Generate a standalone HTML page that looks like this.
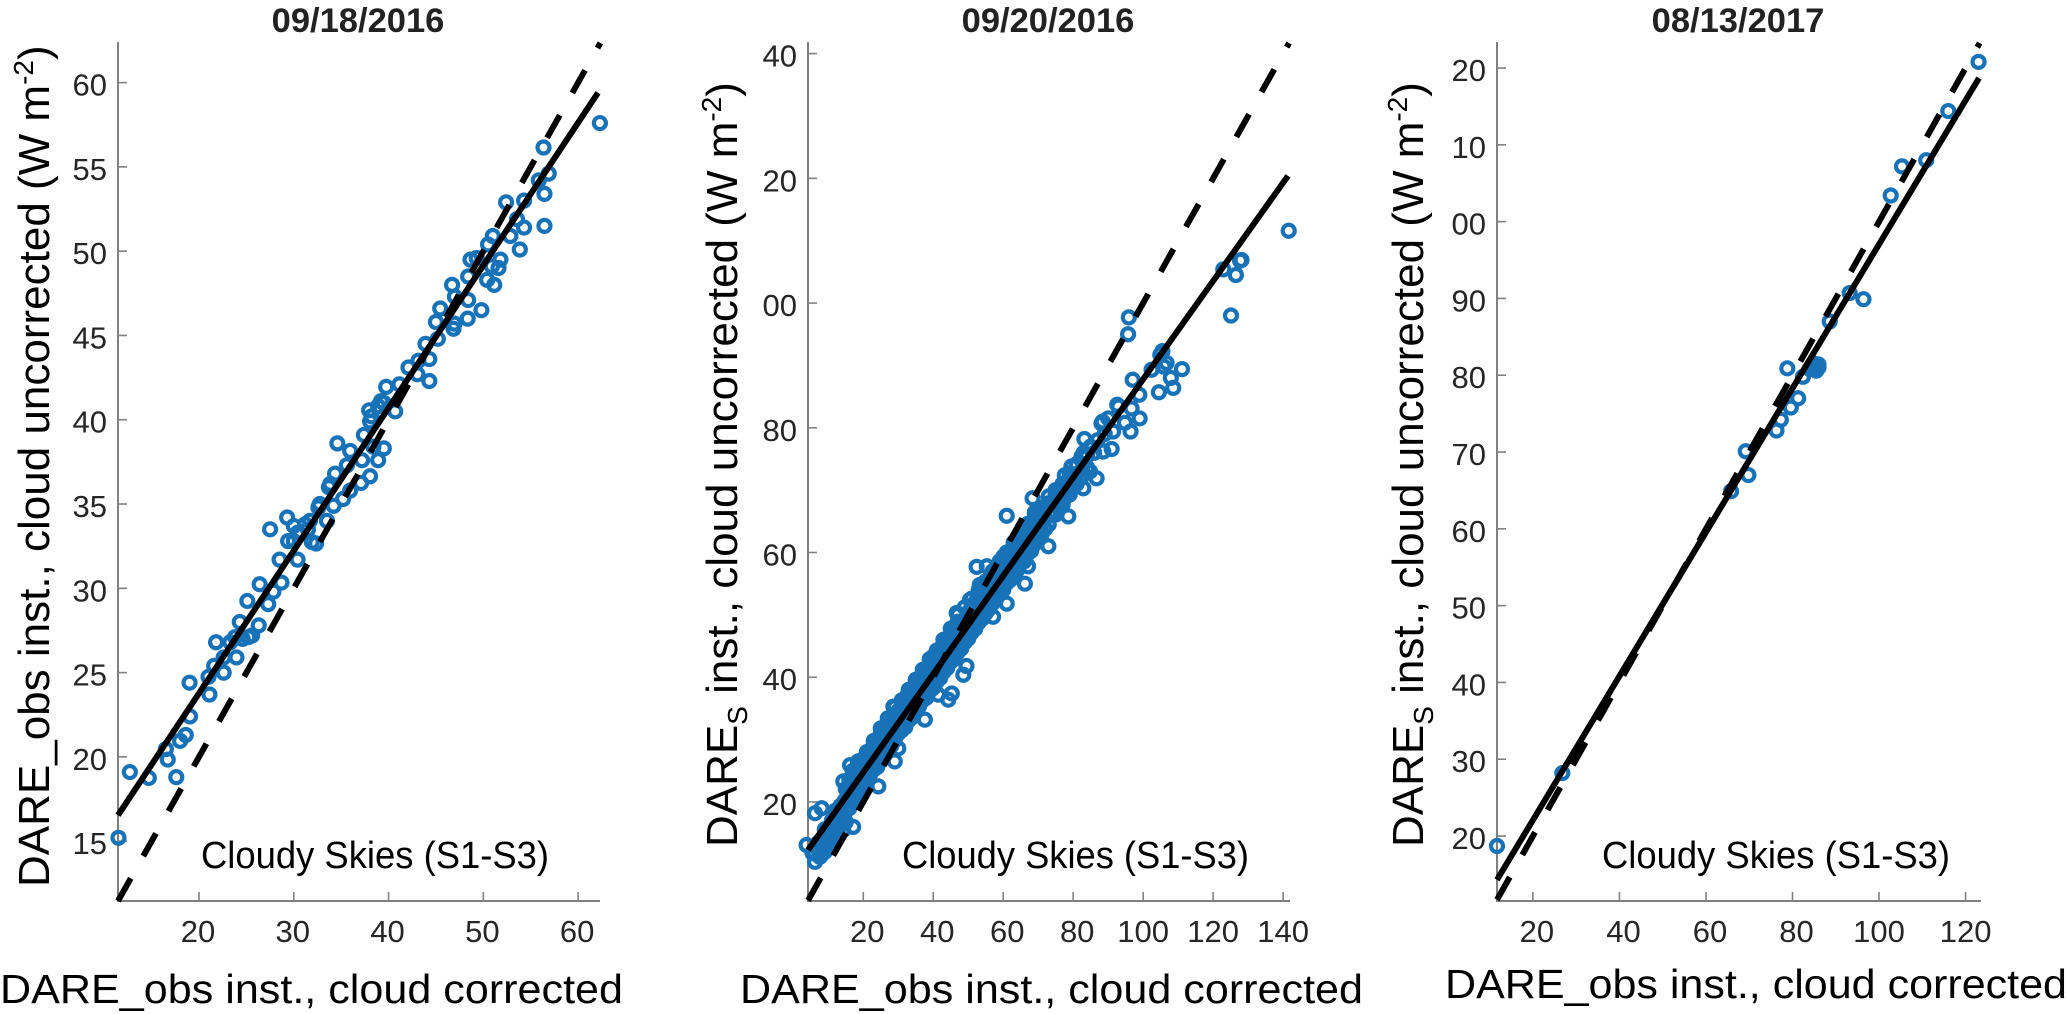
<!DOCTYPE html>
<html lang="en">
<head>
<meta charset="utf-8">
<title>DARE cloud corrected versus uncorrected scatter plots</title>
<style>
html,body{margin:0;padding:0;background:#fff;width:2067px;height:1014px;overflow:hidden}
svg{display:block;font-family:"Liberation Sans",sans-serif}
.tick{font-size:31px;fill:#262626}
.title{font-size:34.5px;font-weight:bold;fill:#222;text-anchor:middle}
.ytitle{font-size:44px;fill:#000}
.xtitle{font-size:41px;fill:#000}
.note{font-size:38px;fill:#000}
</style>
</head>
<body>
<svg id="figure" xmlns="http://www.w3.org/2000/svg" width="2067" height="1014" viewBox="0 0 2067 1014">
  <rect width="2067" height="1014" fill="#fff"/>
  <g id="panel-1"></g>
  <g id="panel-2"></g>
  <g id="panel-3"></g>

  <text class="title" x="358" y="32">09/18/2016</text>
  <text class="title" x="1048" y="32">09/20/2016</text>
  <text class="title" x="1738" y="32">08/13/2017</text>

  <text class="ytitle" transform="translate(49,887) rotate(-90)">DARE_obs inst., cloud uncorrected (W m<tspan font-size="28" dy="-16">-2</tspan><tspan dy="16">)</tspan></text>
  <text class="ytitle" transform="translate(737,847) rotate(-90)">DARE<tspan font-size="28" dy="10">S</tspan><tspan dy="-10"> inst., cloud uncorrected (W m</tspan><tspan font-size="28" dy="-16">-2</tspan><tspan dy="16">)</tspan></text>
  <text class="ytitle" transform="translate(1423,847) rotate(-90)">DARE<tspan font-size="28" dy="10">S</tspan><tspan dy="-10"> inst., cloud uncorrected (W m</tspan><tspan font-size="28" dy="-16">-2</tspan><tspan dy="16">)</tspan></text>

  <text class="xtitle" x="0" y="1003" textLength="623" lengthAdjust="spacingAndGlyphs">DARE_obs inst., cloud corrected</text>
  <text class="xtitle" x="740" y="1003" textLength="623" lengthAdjust="spacingAndGlyphs">DARE_obs inst., cloud corrected</text>
  <text class="xtitle" x="1445" y="998" textLength="622" lengthAdjust="spacingAndGlyphs">DARE_obs inst., cloud corrected</text>

  <text class="note" x="201" y="868" textLength="348" lengthAdjust="spacingAndGlyphs">Cloudy Skies (S1-S3)</text>
  <text class="note" x="902" y="868" textLength="347" lengthAdjust="spacingAndGlyphs">Cloudy Skies (S1-S3)</text>
  <text class="note" x="1602" y="868" textLength="348" lengthAdjust="spacingAndGlyphs">Cloudy Skies (S1-S3)</text>
</svg>

<script>
const panel1XLim = [11.45, 62.1];
const panel1YLim = [11.45, 62.35];
const panel1XTicks = [20, 30, 40, 50, 60];
const panel1XLabels = ["20", "30", "40", "50", "60"];
const panel1YTicks = [15, 20, 25, 30, 35, 40, 45, 50, 55, 60];
const panel1YLabels = ["15", "20", "25", "30", "35", "40", "45", "50", "55", "60"];
const panel1FitX = [11.45, 62.1];
const panel1FitY = [16.54, 59.4];
const panel1X = [11.5,12.7,14.7,16.7,16.5,17.6,18,18.6,19.05,19,
21.1,21,21.6,22.6,23.95,22.6,21.8,23.3,23.8,25.2,
25.6,24.6,24.3,26.3,25.1,27.3,26.4,27.85,28.7,28.5,
30.4,27.5,29.3,30,29.4,30,30.4,31.9,32.35,31.5,
31.7,31.2,33.5,32.6,32.75,34.2,35.2,35.95,37.1,38.05,
33.85,33.7,34.35,34.6,35.95,35.6,37.2,38.9,39.5,38.4,
37.4,37.95,38.2,38.05,40.7,38.9,39.5,39.2,39.75,41.15,
42.1,43.15,43.05,44.3,44.3,43.9,45.2,45,45.45,46.85,
46.95,48.35,49.8,48.4,47,46.7,48.4,51.15,50.4,51.6,
51.8,48.65,49.3,50.9,50.5,51,52.85,53.85,54.3,56.45,
53.55,52.4,54.3,56.45,55.85,56.9,56.35,62.3];
const panel1Y = [15.2,19.1,18.75,19.84,20.46,18.8,20.95,21.3,22.4,24.4,
23.7,24.75,25.4,25,25.9,25.9,26.8,26.8,27.1,27.1,
27.2,27,28,27.8,29.25,29.06,30.24,29.8,30.34,31.7,
31.7,33.5,34.2,33.7,32.8,32.8,33.3,32.75,32.66,33.5,
34,33.8,34,34.8,35,34.9,35.3,35.8,36.25,36.65,
36.2,36,36.8,38.6,38.15,37.3,37.6,37.6,38.3,38.4,
39.1,40.56,40.2,39.9,40.5,40.8,41,41.1,41.95,42.1,
43.1,43.5,42.7,42.3,43.6,44.5,44.8,45.8,46.6,45.4,
45.7,46,46.5,47.1,47.3,48,48.5,48,48.3,49,
49.5,49.5,49.6,49.1,50.4,50.9,50.9,50.1,51.4,51.5,
51.9,52.9,53,53.4,54.2,54.6,56.15,57.6];

const panel2XLim = [4.2, 141.4];
const panel2YLim = [4.12, 141.7];
const panel2XTicks = [20, 40, 60, 80, 100, 120, 140];
const panel2XLabels = ["20", "40", "60", "80", "100", "120", "140"];
const panel2YTicks = [20, 40, 60, 80, 100, 120, 140];
const panel2YLabels = ["20", "40", "60", "80", "00", "20", "40"];
const panel2FitX = [4.2, 141.4];
const panel2FitY = [12.3, 120.4];
const panel2X = [3.8,6.2,8.1,6.2,7.6,5.5,8.5,9.5,7.2,10.5,
11.5,9,11,12.5,13,12,14,14.3,17.1,15,
14.5,16,16,13.5,18,14.3,16.2,17,19,20,
18,20,18.5,21,22,24.3,24,22,23,26,
24,25,26,29,30,28,28,27,29,28.6,
30,30,31,32,32,32.4,33,34,34,34,
35.2,36,36,36,37,37.6,38,38,38.5,39,
40,40,40,41,41.4,42,42,42,42.9,44,
44,44,44.3,45.3,45,46,46,46.7,46,47,
48,48,48,48.6,49.5,50,50,50,50.5,52,
52,51,52.4,53.3,54,54,53,55.3,55,56,
56,56,57,57.1,58,58,58,59,60,60,
60,61,61,62,62,62,63,64,64,64,
65,66,66,66,66.2,67,67.1,68,68,68,
68.4,69,70,70,70,71,72,72,72.9,72,
73,74,74,75,76,76,77.6,77,78,78,
78.6,79.5,80,80,81,82,82.9,82.4,83.2,84,
84,84.8,85,86,86.7,87,88.1,88.4,88.6,91,
91.4,92.6,92.9,94.8,96.4,96.7,97,98.9,99,102.4,
104.5,104.9,105.5,105.9,106.7,107.9,108.6,111.1,95.7,95.9,
125.1,122.9,126.5,127.7,128.1,141.6,89,90];
const panel2Y = [13.1,18.2,19,10.4,11.2,11.8,12.4,13.8,13.5,14.6,
13.6,15.6,16.2,15.4,17.4,18.6,16.6,15.5,16,18.5,
20,19,21.5,19.4,20.5,23.3,25.9,22.6,22,23,
24.5,25.5,26.5,26.7,24.5,22.5,25.6,27.3,28.6,27.4,
29.4,31,29.5,26.5,28.6,29,30.6,32,34,35.3,
31,33,35.5,32,33.8,36.9,35.5,33.6,35.2,37.5,
39.6,35.4,37,38.4,40,33.2,36.7,38.4,40,41.6,
38.3,40,43.3,41.5,37.2,39.9,41.8,43.4,46,41.5,
43.4,45,36.4,37.4,46.8,43,44.8,50.3,47.5,48.9,
44.6,46.4,48.4,40.4,41.8,46.2,48,50,52.4,47.8,
49.6,51.2,57.7,54.8,49.4,51.2,52.8,57.8,54,51,
52.8,54.6,56.5,49.7,52.6,54.4,56.4,58,54,56,
59.3,51.8,65.9,55.6,57.6,59.6,61.5,57.2,59,60.8,
62.8,58.6,60.6,62.2,55,64,57.8,60.3,62,63.8,
68.7,65.5,62,64,66,67.2,63.8,65.5,61,67.2,
69,66,68,70,67.5,69.5,72.4,71,69,71,
65.8,73.8,70.5,72.5,74,72,70.3,75.4,78.2,73.6,
75.5,73,77,76,71.9,78,80.7,81,76.2,76.6,
79.4,83.7,83.4,80.8,79.4,83.1,87.7,85.3,81.5,89.3,
85.7,91.7,92.3,89.8,90.4,88,86.4,89.4,95,97.7,
98,105.4,104.5,106.8,106.9,111.6,79,81.5];
const panel2BandX = [6,7,8,8,9,9,10,10,11,11,12,12,13,13,14,14,15,
15,15,15,
17,17,17,17,19,19,19,19,21,21,21,21,23,23,23,23,25,25,25,25,
27,27,27,27,29,29,29,29,31,31,31,31,33,33,33,33,35,35,35,35,
37,37,37,37,39,39,39,39,41,41,41,41,43,43,43,43,45,45,45,45,
47,47,47,47,49,49,49,49,51,51,51,51,53,53,53,53,55,55,55,55,
57,57,57,57,59,59,59,59,61,61,61,61,63,63,63,63,65,65,65,65,
67,67,67,67,69,69,69,69,
71,71,71,73,73,73,75,75,75,77,77,77,79,79,79,81,81,81,83,83,83,
16,16,16,18,18,18,20,20,20,22,22,22,24,24,24,26,26,26,28,28,28,
30,30,30,32,32,32,34,34,34,36,36,36,38,38,38,40,40,40,42,42,42,
44,44,44,46,46,46,48,48,48,50,50,50,52,52,52,54,54,54,56,56,56,
58,58,58,60,60,60,62,62,62,64,64,64,66,66,66,68,68,68,70,70,70];
const panel2BandY = [12,12.5,11.5,13,12,14.2,13,15.4,14.2,17,14.5,17,15.8,18.6,18,19.5,16.8,
18.9,20.4,22.1,
20.5,22,23.6,25,22.1,23.5,25.3,26.6,23.7,25.1,26.9,28,25.2,26.8,28.4,29.8,26.8,28.3,30,31.8,
28.4,29.9,31.6,33.4,29.9,31.5,33.2,35.2,31.5,33,34.7,36.3,33.1,34.6,36.3,38,34.6,36.2,38,39.6,
36.3,37.8,39.5,41.2,37.8,39.3,41.1,42.9,39.3,40.9,42.7,44.3,40.9,42.5,44.3,46,42.5,44.1,45.9,47.8,
44,45.6,47.4,50,45.6,47.2,49,51.2,47.2,48.8,50.6,52.6,48.8,50.4,52.2,54,50.3,51.9,53.7,55.4,
51.9,53.5,55.3,57,53.5,55.1,56.9,58.6,55.1,56.7,58.5,60,56.6,58.2,60,61.6,58.2,59.8,61.6,63,
59.8,61.4,63.2,64.6,61.4,63,64.8,66.4,
63,64.6,66.4,64.5,66.1,67.9,66.1,67.7,69.5,67.7,69.3,71,69.3,70.9,72.7,71,72.6,74.2,72.5,74.2,76,
20.4,22,23.6,22,23.6,25.2,23.6,25.2,26.8,25.1,26.7,28.3,26.7,28.3,29.9,28.3,29.9,31.5,29.8,31.4,33,
31.4,33,34.6,33,34.6,36.2,34.6,36.2,37.8,36.2,37.8,39.4,37.7,39.3,40.9,39.3,40.9,42.5,40.9,42.5,44.1,
42.5,44.1,45.7,44,45.6,47.2,45.6,47.2,48.8,47.2,48.8,50.4,48.8,50.4,52,50.4,52,53.6,51.9,53.5,55.1,
53.5,55.1,56.7,55.1,56.7,58.3,56.7,58.3,59.9,58.2,59.8,61.4,59.8,61.4,63,61.4,63,64.6,63,64.6,66.2];

const panel3XLim = [11.7, 123.1];
const panel3YLim = [11.54, 123.26];
const panel3XTicks = [20, 40, 60, 80, 100, 120];
const panel3XLabels = ["20", "40", "60", "80", "100", "120"];
const panel3YTicks = [20, 30, 40, 50, 60, 70, 80, 90, 100, 110, 120];
const panel3YLabels = ["20", "30", "40", "50", "60", "70", "80", "90", "00", "10", "20"];
const panel3FitX = [11.7, 123.1];
const panel3FitY = [14.3, 118.7];
const panel3X = [11.7,26.8,65.8,69.2,69.8,76.3,77.3,79.6,81.3,82.4,78.8,85.5,85,84.5,86,85.5,84,85,86,88.6,93.2,96.4,102.7,105.3,110.9,116,123];
const panel3Y = [18.7,28.2,64.9,70.1,67,72.8,74.2,75.8,77,79.8,80.9,81.3,81.5,81.2,81,80.6,80.8,81,81.4,87,90.7,89.9,103.4,107.2,108,114.4,120.8];

const SVG_NS = 'http://www.w3.org/2000/svg';

function makeAxis(domain, range) {
  return function (value) {
    return range[0] + (value - domain[0]) / (domain[1] - domain[0]) * (range[1] - range[0]);
  };
}

function addShape(parent, tag, props) {
  const el = document.createElementNS(SVG_NS, tag);
  Object.keys(props).forEach(function (key) { el.setAttribute(key, props[key]); });
  parent.appendChild(el);
  return el;
}

function drawPanel(id, box, cfg) {
  const root = document.getElementById(id);
  const sx = makeAxis(cfg.xLim, [box.left, box.right]);
  const sy = makeAxis(cfg.yLim, [box.bottom, box.top]);
  const axisColor = '#808080';

  const yLine = addShape(root, 'line', { x1: box.left, x2: box.left, y1: box.top - 1, y2: box.bottom + 1, stroke: axisColor, 'stroke-width': 2 });
  
  
  const xLine = addShape(root, 'line', { x1: box.left - 1, x2: box.right + 2, y1: box.bottom, y2: box.bottom, stroke: axisColor, 'stroke-width': 2 });
  
  

  cfg.xTicks.forEach(function (t, i) {
    const tick = addShape(root, 'line', { x1: sx(t), x2: sx(t), y1: box.bottom, y2: box.bottom - 9, stroke: axisColor, 'stroke-width': 1.6 });
    
    
    const shift = cfg.xLabels[i].length === 2 ? cfg.labelShift : 0;
    const label = addShape(root, 'text', { x: sx(t) + shift, y: 942, 'text-anchor': 'middle', 'class': 'tick' });
    label.textContent = cfg.xLabels[i];
    
    
  });

  cfg.yTicks.forEach(function (t, i) {
    const tick = addShape(root, 'line', { x1: box.left, x2: box.left + 9, y1: sy(t), y2: sy(t), stroke: axisColor, 'stroke-width': 1.6 });
    
    
    const label = addShape(root, 'text', { x: box.left - 11, y: sy(t) + 13, 'text-anchor': 'end', 'class': 'tick' });
    label.textContent = cfg.yLabels[i];
    
    
  });

  cfg.xs.forEach(function (x, i) {
    const dot = addShape(root, 'circle', { cx: sx(x), cy: sy(cfg.ys[i]), r: 6, fill: 'none', stroke: '#1872b8', 'stroke-width': 4.2 });
    
    
  });

  const unity = Math.max(cfg.xLim[1], cfg.yLim[1]) === cfg.xLim[1] ? cfg.xLim[1] : cfg.yLim[1];
  const oneToOne = addShape(root, 'line', {
    x1: sx(cfg.xLim[0]), y1: sy(cfg.xLim[0]), x2: sx(unity), y2: sy(unity),
    stroke: '#000', 'stroke-width': 6, 'stroke-dasharray': '26 25.5'
  });
  
  

  const fit = addShape(root, 'line', {
    x1: sx(cfg.fitX[0]), y1: sy(cfg.fitY[0]), x2: sx(cfg.fitX[1]), y2: sy(cfg.fitY[1]),
    stroke: '#000', 'stroke-width': 6
  });
  
  
}

drawPanel('panel-1', { left: 118, right: 598, top: 43, bottom: 901 }, {
  xLim: panel1XLim, yLim: panel1YLim, xTicks: panel1XTicks, xLabels: panel1XLabels, labelShift: -1,
  yTicks: panel1YTicks, yLabels: panel1YLabels, fitX: panel1FitX, fitY: panel1FitY, xs: panel1X, ys: panel1Y
});
drawPanel('panel-2', { left: 808, right: 1288, top: 43, bottom: 901 }, {
  xLim: panel2XLim, yLim: panel2YLim, xTicks: panel2XTicks, xLabels: panel2XLabels, labelShift: 4,
  yTicks: panel2YTicks, yLabels: panel2YLabels, fitX: panel2FitX, fitY: panel2FitY,
  xs: panel2BandX.concat(panel2X), ys: panel2BandY.concat(panel2Y)
});
drawPanel('panel-3', { left: 1497, right: 1979, top: 43, bottom: 901 }, {
  xLim: panel3XLim, yLim: panel3YLim, xTicks: panel3XTicks, xLabels: panel3XLabels, labelShift: 4,
  yTicks: panel3YTicks, yLabels: panel3YLabels, fitX: panel3FitX, fitY: panel3FitY, xs: panel3X, ys: panel3Y
});
</script>
</body>
</html>
